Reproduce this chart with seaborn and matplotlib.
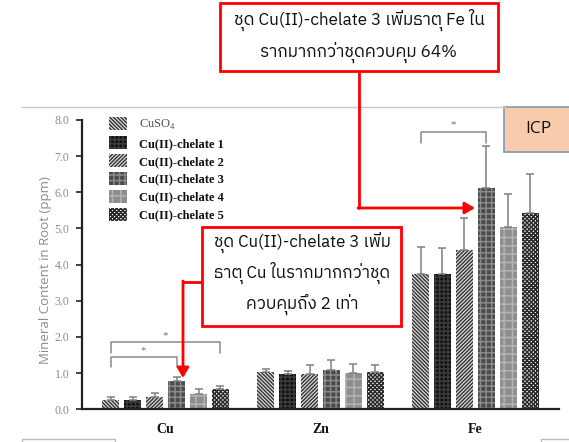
import matplotlib
matplotlib.use("Agg")
import matplotlib.pyplot as plt
import seaborn as sns
import pandas as pd
import numpy as np
from matplotlib import font_manager as fm
from matplotlib.ft2font import FT2Font
from matplotlib.patches import Patch, Rectangle, FancyArrowPatch
from matplotlib.lines import Line2D

# ---------------- data ----------------
elements = ["Cu", "Zn", "Fe"]
treatments = ["CuSO4", "Cu(II)-chelate 1", "Cu(II)-chelate 2",
              "Cu(II)-chelate 3", "Cu(II)-chelate 4", "Cu(II)-chelate 5"]
cuso4 = [0.25, 1.03, 3.73]
chel1 = [0.27, 0.98, 3.73]
chel2 = [0.33, 0.98, 4.40]
chel3 = [0.77, 1.09, 6.11]
chel4 = [0.42, 1.01, 5.03]
chel5 = [0.56, 1.04, 5.44]
err_cuso4 = [0.09, 0.09, 0.77]
err_chel1 = [0.07, 0.09, 0.74]
err_chel2 = [0.11, 0.24, 0.88]
err_chel3 = [0.11, 0.27, 1.16]
err_chel4 = [0.14, 0.23, 0.92]
err_chel5 = [0.09, 0.18, 1.06]
yticks = [0, 1, 2, 3, 4, 5, 6, 7, 8]

values = [cuso4, chel1, chel2, chel3, chel4, chel5]
errors = [err_cuso4, err_chel1, err_chel2, err_chel3, err_chel4, err_chel5]
rows = []
for t, vals in zip(treatments, values):
    for e, v in zip(elements, vals):
        rows.append({"element": e, "treatment": t, "value": v})
df = pd.DataFrame(rows)

# ---------------- fonts ----------------
thai_font = None
cands = []
for f in fm.fontManager.ttflist:
    try:
        cm = FT2Font(f.fname).get_charmap()
    except Exception:
        continue
    if 0x0E0A in cm and 0x0E38 in cm and 0x0E48 in cm:
        cands.append(f.name)
cands = sorted(set(cands))
pref = [c for c in cands if "Sans" in c and "Serif" not in c]
if pref:
    thai_font = pref[0]
elif cands:
    thai_font = cands[0]
thai_family = ([thai_font] if thai_font else []) + ["DejaVu Sans"]

sns.set_theme(style="white")
plt.rcParams["font.family"] = ["DejaVu Sans"]
plt.rcParams["hatch.linewidth"] = 1.1
plt.rcParams["mathtext.fontset"] = "custom"
plt.rcParams["mathtext.rm"] = "Liberation Serif"

W, H = 569, 442
fig = plt.figure(figsize=(W / 100, H / 100), dpi=100)
fig.patch.set_facecolor("white")


def px(x, y):
    return (x / W, 1 - y / H)


ax = fig.add_axes([82 / W, 1 - 409.3 / H, 477 / W, (409.3 - 120) / H])

palette = ["white", "#111111", "white", "#4a4a4a", "#8c8c8c", "white"]
sns.barplot(data=df, x="element", y="value", hue="treatment",
            hue_order=treatments, order=elements, palette=palette,
            width=0.85, gap=0.23, errorbar=None, legend=False, ax=ax)

styles = [
    dict(fc="#e8e8e8", hatch="\\" * 9, ec="#3a3a3a"),
    dict(fc="#111111", hatch="++++", ec="#3c3c3c"),
    dict(fc="#e8e8e8", hatch="/" * 9, ec="#3a3a3a"),
    dict(fc="#4a4a4a", hatch="+++", ec="#8a8a8a"),
    dict(fc="#8e8e8e", hatch="++", ec="#b4b4b4"),
    dict(fc="white", hatch="x" * 8, ec="#2a2a2a"),
]

centers = []
for cont, st, errs in zip(ax.containers, styles, errors):
    xs = []
    hs = []
    for bar in cont:
        bar.set_facecolor(st["fc"])
        bar.set_hatch(st["hatch"])
        bar.set_edgecolor(st["ec"])
        bar.set_linewidth(0)
        xs.append(bar.get_x() + bar.get_width() / 2)
        hs.append(bar.get_height())
    centers.append(xs)
    ax.errorbar(xs, hs, yerr=[np.zeros(len(errs)), errs], fmt="none",
                ecolor="#808080", elinewidth=1.1, capsize=3, capthick=1.1,
                zorder=3)

ax.set_xlim(-0.54, 2.54)
ax.set_ylim(0, 8)
ax.set_yticks(yticks)
ax.set_yticklabels([f"{v:.1f}" for v in yticks], family="Liberation Serif",
                   color="#8c8c8c", fontsize=8.5)
ax.tick_params(axis="y", left=True, length=4, width=1.2, color="#222222", pad=5)
ax.tick_params(axis="x", bottom=False, length=0, pad=10)
for lab in ax.get_xticklabels():
    lab.set_family("Liberation Serif")
    lab.set_fontweight("bold")
    lab.set_fontsize(10)
    lab.set_color("#111111")
ax.set_xlabel("")
ax.set_ylabel("Mineral Content in Root (ppm)", family="Open Sans",
              color="#8c8c8c", fontsize=9.5)
ax.yaxis.set_label_coords(-(82 - 52) / 477, 0.48)
for s in ["top", "right"]:
    ax.spines[s].set_visible(False)
for s in ["left", "bottom"]:
    ax.spines[s].set_color("#222222")
    ax.spines[s].set_linewidth(1.6)
ax.set_facecolor("white")
ax.grid(False)

# significance brackets
gc = "#8a8a8a"
def bracket(x1, x2, ytop, ylow, ystar):
    ax.plot([x1, x1, x2, x2], [ylow, ytop, ytop, ylow], color=gc, lw=1.1,
            clip_on=False, zorder=4)
    ax.text((x1 + x2) / 2, ystar, "*", ha="center", va="center",
            color="#777777", fontsize=8, family="Liberation Serif")

bracket(centers[0][0], centers[3][0], 1.44, 1.18, 1.62)
bracket(centers[0][0], centers[5][0], 1.86, 1.57, 2.04)
bracket(centers[0][2], centers[3][2], 7.67, 7.36, 7.86)

# legend
handles = [Patch(facecolor=st["fc"], hatch=st["hatch"], edgecolor=st["ec"],
                 linewidth=0) for st in styles]
labels = ["CuSO$_4$"] + treatments[1:]
leg = fig.legend(handles, labels, loc="upper left",
                 bbox_to_anchor=px(109, 117), bbox_transform=fig.transFigure,
                 frameon=False, borderpad=0, borderaxespad=0,
                 handlelength=1.4, handleheight=1.25, handletextpad=1.0,
                 labelspacing=0.33,
                 prop={"family": "Liberation Serif", "size": 9})
for i, t in enumerate(leg.get_texts()):
    t.set_color("#111111")
    if i > 0:
        t.set_fontweight("bold")
    else:
        t.set_color("#555555")

# ---------------- decorations ----------------
fig.add_artist(Line2D([22 / W, 505 / W], [1 - 107 / H, 1 - 107 / H],
                      color="#c8c8c8", lw=1.0))
# ICP box
fig.add_artist(Rectangle(px(504, 152), 80 / W, 45 / H, facecolor="#F8CBAD",
                         edgecolor="#7F98B0", lw=1.2,
                         transform=fig.transFigure))
fig.text(*px(538, 129), "ICP", ha="center", va="center", fontsize=12.5,
         family="Open Sans", color="#111111")
# bottom gray box fragments
fig.add_artist(Rectangle(px(22, 450), 93 / W, 11 / H, facecolor="none",
                         edgecolor="#bbbbbb", lw=1.0, transform=fig.transFigure))
fig.add_artist(Rectangle(px(541, 450), 40 / W, 11 / H, facecolor="none",
                         edgecolor="#bbbbbb", lw=1.0, transform=fig.transFigure))

red = "#FF0000"
# top annotation box
fig.add_artist(Rectangle(px(220, 71), 278 / W, 68 / H, facecolor="white",
                         edgecolor=red, lw=2, transform=fig.transFigure,
                         zorder=5))
fig.text(*px(359, 36), "ชุด Cu(II)-chelate 3 เพิ่มธาตุ Fe ใน\nรากมากกว่าชุดควบคุม 64%",
         ha="center", va="center", fontsize=12.3, family=thai_family,
         color="#111111", linespacing=1.75, zorder=6)
fig.add_artist(Line2D([359 / W, 359 / W], [1 - 71 / H, 1 - 208 / H],
                      color=red, lw=2))
fig.add_artist(FancyArrowPatch(px(358, 208), px(475, 208),
                               transform=fig.transFigure, color=red, lw=2,
                               arrowstyle="-|>,head_length=6,head_width=3.5",
                               mutation_scale=1, shrinkA=0, shrinkB=0))

# second annotation box
fig.add_artist(Rectangle(px(202, 326), 199 / W, 99 / H, facecolor="white",
                         edgecolor=red, lw=2, transform=fig.transFigure,
                         zorder=5))
fig.text(*px(302, 273), "ชุด Cu(II)-chelate 3 เพิ่ม\nธาตุ Cu ในรากมากกว่าชุด\nควบคุมถึง 2 เท่า",
         ha="center", va="center", fontsize=12.2, family=thai_family,
         color="#111111", linespacing=1.6, zorder=6)
fig.add_artist(Line2D([202 / W, 183 / W], [1 - 282 / H, 1 - 282 / H],
                      color=red, lw=2))
fig.add_artist(FancyArrowPatch(px(183, 281), px(183, 378),
                               transform=fig.transFigure, color=red, lw=2,
                               arrowstyle="-|>,head_length=6,head_width=3.5",
                               mutation_scale=1, shrinkA=0, shrinkB=0))

fig.savefig("out.png", dpi=100, facecolor="white")
